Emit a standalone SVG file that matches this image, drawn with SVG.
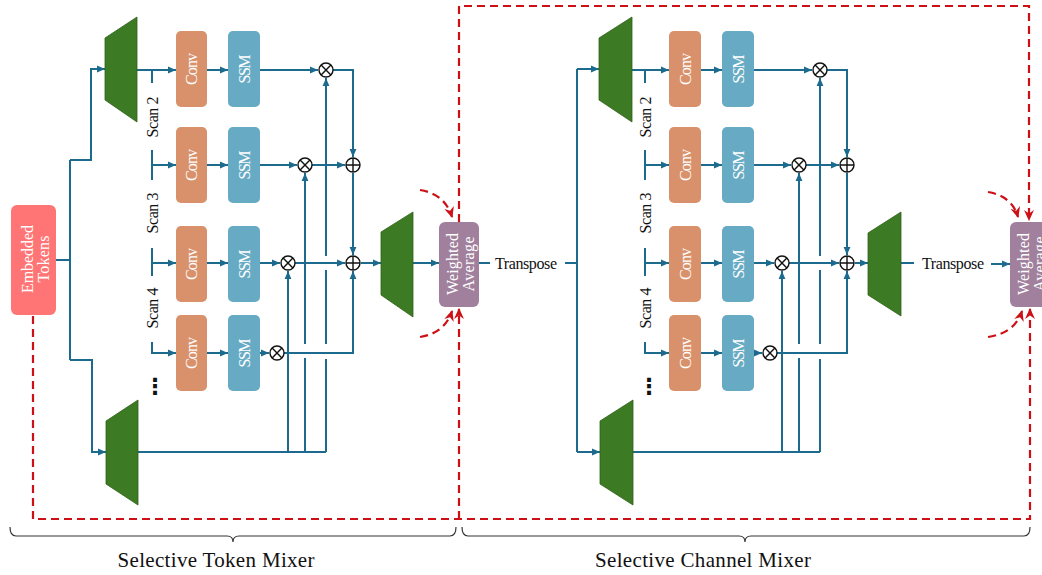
<svg xmlns="http://www.w3.org/2000/svg" width="1042" height="575" viewBox="0 0 1042 575">
<style>
.ln{fill:none;stroke:#1C6A8D;stroke-width:2}
.ar{marker-end:url(#ab)}
.rd{fill:none;stroke:#CC1016;stroke-width:2.2;stroke-dasharray:8 5}
.rda{marker-end:url(#ar)}
.conv{fill:#D9916C}
.ssm{fill:#67AAC4}
.wa{fill:#A0809C}
.emb{fill:#FF7474}
.trap{fill:#3C7A23;stroke:#2E6118;stroke-width:0.8}
.op{fill:#fff;stroke:#111;stroke-width:1.4}
.wt{fill:#fff;font-family:"Liberation Serif",serif;font-size:16px;text-anchor:middle;dominant-baseline:central}
.bt{fill:#111;font-family:"Liberation Serif",serif;font-size:16px;text-anchor:middle;dominant-baseline:central}
.lab{fill:#111;font-family:"Liberation Serif",serif;font-size:21px;text-anchor:middle}
.br{fill:none;stroke:#333;stroke-width:1.2}
</style>
<defs>
<marker id="ab" viewBox="0 0 8 8" markerWidth="8" markerHeight="8" refX="8" refY="4" orient="auto" markerUnits="userSpaceOnUse"><path d="M0,0.6 L8,4 L0,7.4 z" fill="#1C6A8D"/></marker>
<marker id="ar" viewBox="0 0 10 10" markerWidth="11" markerHeight="11" refX="9" refY="5" orient="auto" markerUnits="userSpaceOnUse"><path d="M0,0.5 L10,5 L0,9.5 L3,5 z" fill="#CC1016"/></marker>
<g id="otimes"><circle r="7" class="op"/><path d="M-4.9,-4.9 L4.9,4.9 M-4.9,4.9 L4.9,-4.9" stroke="#111" stroke-width="1.4"/></g>
<g id="oplus"><circle r="7" class="op"/><path d="M-7,0 H7 M0,-7 V7" stroke="#111" stroke-width="1.4"/></g>
</defs>

<g id="connectors">
<path class="ln" d="M56,260 H70 M70,160 V360"/>
<path class="ln ar" d="M70,160 H91 V69 H105"/>
<path class="ln ar" d="M70,360 H92 V452 H106"/>
<path class="ln ar" d="M137,70 H176"/>
<path class="ln" d="M152,70 V83 M152,150 V180 M152,248 V276"/>
<path class="ln ar" d="M152,165 H176"/>
<path class="ln ar" d="M152,263 H176"/>
<path class="ln ar" d="M152,342 V353 H176"/>
<path class="ln ar" d="M207,70 H228"/>
<path class="ln ar" d="M207,165 H228"/>
<path class="ln ar" d="M207,263 H228"/>
<path class="ln ar" d="M207,353 H228"/>
<path class="ln ar" d="M260,70 H318"/>
<path class="ln ar" d="M260,165 H297"/>
<path class="ln ar" d="M260,263 H280"/>
<path class="ln ar" d="M260,353 H269"/>
<path class="ln ar" d="M333,70 H353 V157"/>
<path class="ln ar" d="M312,165 H345"/>
<path class="ln ar" d="M353,173 V255"/>
<path class="ln ar" d="M295,263 H345"/>
<path class="ln" d="M138,452 H326"/>
<path class="ln ar" d="M288,452 V271"/>
<path class="ln" d="M305,452 V358"/>
<path class="ln ar" d="M305,344 V173"/>
<path class="ln" d="M326,452 V359 M326,344 V270"/>
<path class="ln ar" d="M326,256 V78"/>
<path class="ln ar" d="M284,353 H353 V271"/>
<path class="ln ar" d="M361,263 H381"/>
<path class="ln ar" d="M413,263 H439"/>
<path class="ln" d="M479,263 H490 M565,263 H577"/>
<path class="ln" d="M577,69 V452"/>
<path class="ln ar" d="M577,69 H599"/>
<path class="ln ar" d="M577,452 H600"/>
<path class="ln ar" d="M632,70 H669"/>
<path class="ln" d="M645,70 V83 M645,150 V180 M645,248 V276"/>
<path class="ln ar" d="M645,165 H669"/>
<path class="ln ar" d="M645,263 H669"/>
<path class="ln ar" d="M645,342 V353 H669"/>
<path class="ln ar" d="M701,70 H722"/>
<path class="ln ar" d="M701,165 H722"/>
<path class="ln ar" d="M701,263 H722"/>
<path class="ln ar" d="M701,353 H722"/>
<path class="ln ar" d="M754,70 H812"/>
<path class="ln ar" d="M754,165 H791"/>
<path class="ln ar" d="M754,263 H774"/>
<path class="ln ar" d="M754,353 H762"/>
<path class="ln ar" d="M827,70 H847 V157"/>
<path class="ln ar" d="M806,165 H839"/>
<path class="ln ar" d="M847,173 V255"/>
<path class="ln ar" d="M789,263 H839"/>
<path class="ln" d="M633,452 H820"/>
<path class="ln ar" d="M782,452 V271"/>
<path class="ln" d="M799,452 V358"/>
<path class="ln ar" d="M799,344 V173"/>
<path class="ln" d="M820,452 V359 M820,344 V270"/>
<path class="ln ar" d="M820,256 V78"/>
<path class="ln ar" d="M777,353 H847 V271"/>
<path class="ln ar" d="M855,263 H868"/>
<path class="ln" d="M901,263 H914"/>
<path class="ln ar" d="M991,264 H1010"/>
<path class="rd rda" d="M33,316 V519 H1030 V309"/>
<path class="rd rda" d="M459,519 V309"/>
<path class="rd rda" d="M459,222 V6 H1029 V220"/>
<path class="rd rda" d="M420,190 Q445,194 452,217"/>
<path class="rd rda" d="M420,337 Q445,333 452,311"/>
<path class="rd rda" d="M988,192 Q1012,196 1018,217"/>
<path class="rd rda" d="M988,337 Q1015,333 1022,311"/>
</g>

<g id="embedded-tokens"><rect class="emb" x="11" y="205" width="45" height="110" rx="6"/>
<text class="wt" transform="translate(35,259) rotate(-90)"><tspan x="0" y="-8" textLength="68">Embedded</tspan><tspan x="0" y="8" textLength="47">Tokens</tspan></text></g>

<g id="tm-proj-top"><polygon class="trap" points="105,38 137,17 137,122 105,100"/></g>
<g id="tm-proj-bottom"><polygon class="trap" points="106,421 138,400 138,505 106,484"/></g>
<g id="tm-proj-out"><polygon class="trap" points="381,232 413,212 413,317 381,295"/></g>

<g id="tm-scan-labels">
<text class="bt" transform="translate(152,117) rotate(-90)" textLength="41">Scan 2</text>
<text class="bt" transform="translate(152,213) rotate(-90)" textLength="41">Scan 3</text>
<text class="bt" transform="translate(152,308) rotate(-90)" textLength="41">Scan 4</text>
<text x="155" y="394" font-family="DejaVu Sans, sans-serif" font-weight="bold" font-size="22" text-anchor="middle" fill="#111">⋮</text>
</g>

<g id="tm-conv1"><rect class="conv" x="176" y="31" width="31" height="76" rx="5"/><text class="wt" transform="translate(191.5,69) rotate(-90)" textLength="32">Conv</text></g>
<g id="tm-conv2"><rect class="conv" x="176" y="127" width="31" height="76" rx="5"/><text class="wt" transform="translate(191.5,165) rotate(-90)" textLength="32">Conv</text></g>
<g id="tm-conv3"><rect class="conv" x="176" y="226" width="31" height="76" rx="5"/><text class="wt" transform="translate(191.5,264) rotate(-90)" textLength="32">Conv</text></g>
<g id="tm-conv4"><rect class="conv" x="176" y="315" width="31" height="76" rx="5"/><text class="wt" transform="translate(191.5,353) rotate(-90)" textLength="32">Conv</text></g>
<g id="tm-ssm1"><rect class="ssm" x="228" y="31" width="32" height="76" rx="5"/><text class="wt" transform="translate(244,69) rotate(-90)" textLength="29">SSM</text></g>
<g id="tm-ssm2"><rect class="ssm" x="228" y="127" width="32" height="76" rx="5"/><text class="wt" transform="translate(244,165) rotate(-90)" textLength="29">SSM</text></g>
<g id="tm-ssm3"><rect class="ssm" x="228" y="226" width="32" height="76" rx="5"/><text class="wt" transform="translate(244,264) rotate(-90)" textLength="29">SSM</text></g>
<g id="tm-ssm4"><rect class="ssm" x="228" y="315" width="32" height="76" rx="5"/><text class="wt" transform="translate(244,353) rotate(-90)" textLength="29">SSM</text></g>

<g id="tm-mul1"><use href="#otimes" x="326" y="70"/></g>
<g id="tm-mul2"><use href="#otimes" x="305" y="165"/></g>
<g id="tm-mul3"><use href="#otimes" x="288" y="263"/></g>
<g id="tm-mul4"><use href="#otimes" x="277" y="353"/></g>
<g id="tm-add1"><use href="#oplus" x="353" y="165"/></g>
<g id="tm-add2"><use href="#oplus" x="353" y="263"/></g>

<g id="tm-weighted-average"><rect class="wa" x="439" y="222" width="40" height="85" rx="6"/>
<text class="wt" transform="translate(460,264) rotate(-90)"><tspan x="0" y="-8" textLength="62">Weighted</tspan><tspan x="0" y="8" textLength="55">Average</tspan></text></g>

<g id="transpose1"><text class="bt" x="526" y="263" textLength="62">Transpose</text></g>

<g id="cm-proj-top"><polygon class="trap" points="599,38 632,17 632,122 599,100"/></g>
<g id="cm-proj-bottom"><polygon class="trap" points="600,421 633,400 633,505 600,484"/></g>
<g id="cm-proj-out"><polygon class="trap" points="868,233 901,212 901,316 868,295"/></g>

<g id="cm-scan-labels">
<text class="bt" transform="translate(645,117) rotate(-90)" textLength="41">Scan 2</text>
<text class="bt" transform="translate(645,213) rotate(-90)" textLength="41">Scan 3</text>
<text class="bt" transform="translate(645,308) rotate(-90)" textLength="41">Scan 4</text>
<text x="649" y="394" font-family="DejaVu Sans, sans-serif" font-weight="bold" font-size="22" text-anchor="middle" fill="#111">⋮</text>
</g>

<g id="cm-conv1"><rect class="conv" x="669" y="31" width="32" height="76" rx="5"/><text class="wt" transform="translate(685,69) rotate(-90)" textLength="32">Conv</text></g>
<g id="cm-conv2"><rect class="conv" x="669" y="127" width="32" height="76" rx="5"/><text class="wt" transform="translate(685,165) rotate(-90)" textLength="32">Conv</text></g>
<g id="cm-conv3"><rect class="conv" x="669" y="226" width="32" height="76" rx="5"/><text class="wt" transform="translate(685,264) rotate(-90)" textLength="32">Conv</text></g>
<g id="cm-conv4"><rect class="conv" x="669" y="315" width="32" height="76" rx="5"/><text class="wt" transform="translate(685,353) rotate(-90)" textLength="32">Conv</text></g>
<g id="cm-ssm1"><rect class="ssm" x="722" y="31" width="32" height="76" rx="5"/><text class="wt" transform="translate(738,69) rotate(-90)" textLength="29">SSM</text></g>
<g id="cm-ssm2"><rect class="ssm" x="722" y="127" width="32" height="76" rx="5"/><text class="wt" transform="translate(738,165) rotate(-90)" textLength="29">SSM</text></g>
<g id="cm-ssm3"><rect class="ssm" x="722" y="226" width="32" height="76" rx="5"/><text class="wt" transform="translate(738,264) rotate(-90)" textLength="29">SSM</text></g>
<g id="cm-ssm4"><rect class="ssm" x="722" y="315" width="32" height="76" rx="5"/><text class="wt" transform="translate(738,353) rotate(-90)" textLength="29">SSM</text></g>

<g id="cm-mul1"><use href="#otimes" x="820" y="70"/></g>
<g id="cm-mul2"><use href="#otimes" x="799" y="165"/></g>
<g id="cm-mul3"><use href="#otimes" x="782" y="263"/></g>
<g id="cm-mul4"><use href="#otimes" x="770" y="353"/></g>
<g id="cm-add1"><use href="#oplus" x="847" y="165"/></g>
<g id="cm-add2"><use href="#oplus" x="847" y="263"/></g>

<g id="transpose2"><text class="bt" x="953" y="263" textLength="62">Transpose</text></g>

<g id="cm-weighted-average"><rect class="wa" x="1010" y="222" width="44" height="85" rx="6"/>
<text class="wt" transform="translate(1031,264) rotate(-90)"><tspan x="0" y="-8" textLength="62">Weighted</tspan><tspan x="0" y="8" textLength="55">Average</tspan></text></g>

<g id="braces">
<path class="br" d="M10,527 Q10,536 16,536 H227 Q233,536 233,542 Q233,536 239,536 H450 Q456,536 456,527"/>
<path class="br" d="M462,527 Q462,536 468,536 H739 Q745,536 745,542 Q745,536 751,536 H1024 Q1030,536 1030,527"/>
<text class="lab" x="216" y="567" textLength="197">Selective Token Mixer</text>
<text class="lab" x="703" y="567" textLength="216">Selective Channel Mixer</text>
</g>
</svg>
